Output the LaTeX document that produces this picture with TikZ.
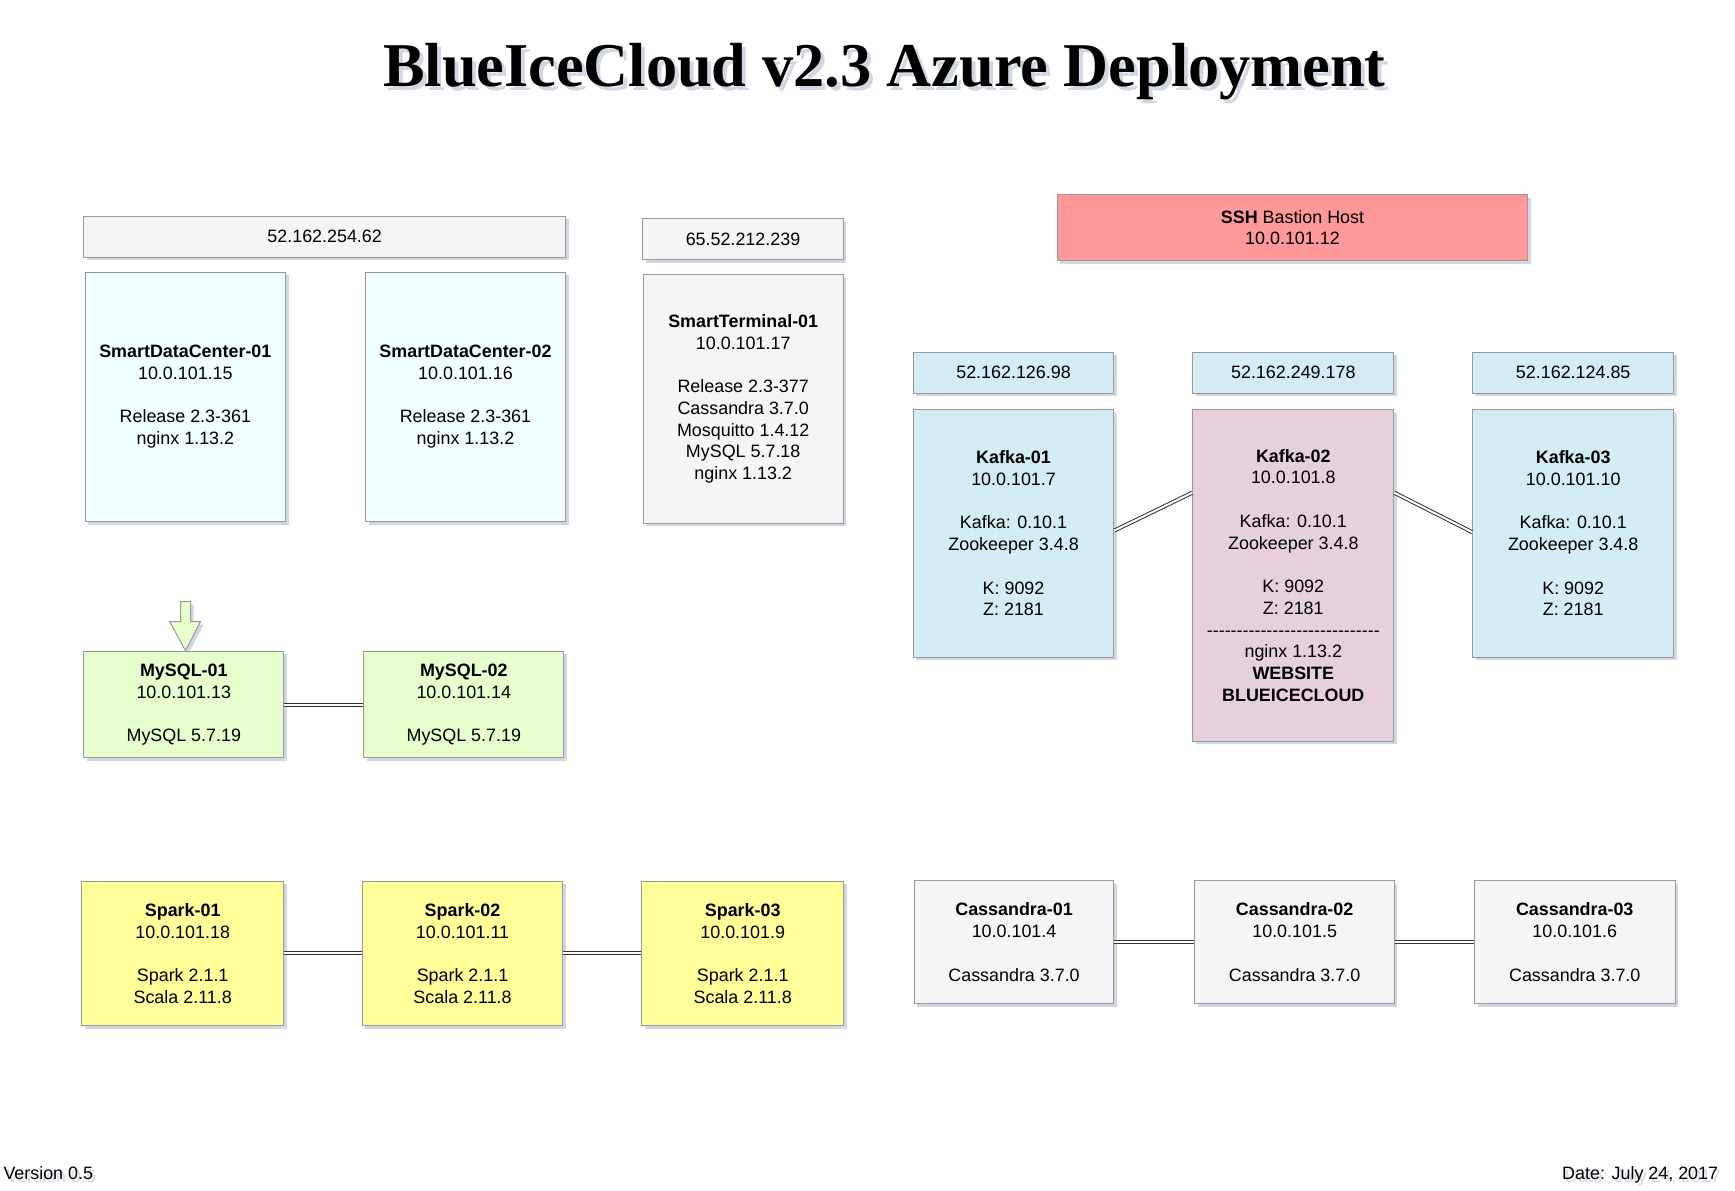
\documentclass[tikz,border=0pt]{standalone}
\usepackage{fontspec}
\setmainfont{Liberation Sans}
\newfontfamily\titlefont{Liberation Serif}
\newfontfamily\dashfont{Liberation Sans}[Ligatures=TeXOff]
\usetikzlibrary{shadows}
\definecolor{bordergray}{HTML}{999999}
\definecolor{ipgray}{HTML}{F5F5F5}
\definecolor{azurefill}{HTML}{F0FFFF}
\definecolor{sshred}{HTML}{FF9999}
\definecolor{kafkablue}{HTML}{D4EDF4}
\definecolor{kafkapink}{HTML}{E6D0DE}
\definecolor{mysqlgreen}{HTML}{E6FFCC}
\definecolor{sparkyellow}{HTML}{FFFF99}
\definecolor{shadowblue}{HTML}{8090B0}
\definecolor{linegray}{HTML}{333333}
\tikzset{
  box/.style={draw=bordergray, line width=1pt, align=center, inner sep=0pt,
    anchor=north west, font=\fontsize{17.9}{21.75}\selectfont,
    drop shadow={shadow xshift=3pt, shadow yshift=-3pt, opacity=0.35, fill=shadowblue}},
  conn/.style={draw=linegray, double=white, double distance=2pt, line width=1pt},
  arrowshape/.style={draw=bordergray, fill=mysqlgreen, line width=1pt, line join=miter,
    drop shadow={shadow xshift=3pt, shadow yshift=-3pt, opacity=0.35, fill=shadowblue}},
  bigtitle/.style={font=\titlefont\bfseries\fontsize{62.3}{70}\selectfont, anchor=base, inner sep=0pt},
  footer/.style={font=\fontsize{17.9}{21.75}\selectfont, inner sep=0pt},
  softshadow/.style={text=shadowblue, opacity=0.35},
}
\begin{document}
\begin{tikzpicture}[x=1pt,y=-1pt]
\useasboundingbox[fill=white] (0,0) rectangle (1735,1191);

% title
\node[bigtitle, softshadow] (titleshadow) at (888.4,90.7) {BlueIceCloud v2.3 Azure Deployment};
\node[bigtitle] (title) at (884.4,86.7) {BlueIceCloud v2.3 Azure Deployment};

% left top group
\node[box, fill=ipgray, minimum width=481.7pt, minimum height=41pt] (ip1) at (83.3,215.7) {52.162.254.62};
\node[box, fill=azurefill, minimum width=200.3pt, minimum height=249.3pt] (sdc1) at (84.7,271.7)
  {\textbf{SmartDataCenter-01}\\10.0.101.15\\[21.75pt]Release 2.3-361\\nginx 1.13.2};
\node[box, fill=azurefill, minimum width=200pt, minimum height=249.3pt] (sdc2) at (365,271.7)
  {\textbf{SmartDataCenter-02}\\10.0.101.16\\[21.75pt]Release 2.3-361\\nginx 1.13.2};

\node[box, fill=ipgray, minimum width=200.4pt, minimum height=41pt] (ip2) at (642.3,218.3) {65.52.212.239};
\node[box, fill=ipgray, minimum width=200pt, minimum height=248.7pt] (st) at (642.7,274)
  {\textbf{SmartTerminal-01}\\10.0.101.17\\[21.75pt]Release 2.3-377\\Cassandra 3.7.0\\Mosquitto 1.4.12\\MySQL 5.7.18\\nginx 1.13.2};

% SSH
\node[box, fill=sshred, minimum width=470.6pt, minimum height=65.7pt] (ssh) at (1056.7,194.3)
  {\textbf{SSH} Bastion Host\\10.0.101.12};

% Kafka
\node[box, fill=kafkablue, minimum width=200.5pt, minimum height=41pt] (ipk1) at (912.8,351.7) {52.162.126.98};
\node[box, fill=kafkablue, minimum width=201pt, minimum height=41pt] (ipk2) at (1192.3,351.7) {52.162.249.178};
\node[box, fill=kafkablue, minimum width=200.6pt, minimum height=41pt] (ipk3) at (1472.4,351.7) {52.162.124.85};

\node[box, fill=kafkablue, minimum width=200.5pt, minimum height=247.7pt] (k1) at (912.8,409)
  {\textbf{Kafka-01}\\10.0.101.7\\[21.75pt]Kafka: 0.10.1\\Zookeeper 3.4.8\\[21.75pt]K: 9092\\Z: 2181};
\node[box, fill=kafkapink, minimum width=201pt, minimum height=331.7pt] (k2) at (1192.3,409)
  {\textbf{Kafka-02}\\10.0.101.8\\[21.75pt]Kafka: 0.10.1\\Zookeeper 3.4.8\\[21.75pt]K: 9092\\Z: 2181\\{\dashfont -----------------------------}\\nginx 1.13.2\\\textbf{WEBSITE}\\\textbf{BLUEICECLOUD}};
\node[box, fill=kafkablue, minimum width=200.6pt, minimum height=247.7pt] (k3) at (1472.4,409)
  {\textbf{Kafka-03}\\10.0.101.10\\[21.75pt]Kafka: 0.10.1\\Zookeeper 3.4.8\\[21.75pt]K: 9092\\Z: 2181};

\draw[conn] ([yshift=2.8pt]k1.east) -- ([yshift=-83.7pt]k2.north east -| k2.west);
\draw[conn] ([yshift=-83.7pt]k2.north east) -- ([yshift=1.1pt]k3.west);

% MySQL
\node[box, fill=mysqlgreen, minimum width=200pt, minimum height=106.6pt] (m1) at (83.3,650.7)
  {\textbf{MySQL-01}\\10.0.101.13\\[21.75pt]MySQL 5.7.19};
\node[box, fill=mysqlgreen, minimum width=200pt, minimum height=106.6pt] (m2) at (363.3,650.7)
  {\textbf{MySQL-02}\\10.0.101.14\\[21.75pt]MySQL 5.7.19};
\draw[conn] (m1) -- (m2);
\draw[arrowshape] ([xshift=1.7pt]m1.north) -- ++(-15.7,-29) -- ++(10.7,0) -- ++(0,-20)
  -- ++(10,0) -- ++(0,20) -- ++(10,0) -- cycle;

% Spark
\node[box, fill=sparkyellow, minimum width=202pt, minimum height=144.3pt] (s1) at (81.2,880.7)
  {\textbf{Spark-01}\\10.0.101.18\\[21.75pt]Spark 2.1.1\\Scala 2.11.8};
\node[box, fill=sparkyellow, minimum width=200.5pt, minimum height=144.3pt] (s2) at (361.8,880.7)
  {\textbf{Spark-02}\\10.0.101.11\\[21.75pt]Spark 2.1.1\\Scala 2.11.8};
\node[box, fill=sparkyellow, minimum width=201.6pt, minimum height=144.3pt] (s3) at (641.4,880.7)
  {\textbf{Spark-03}\\10.0.101.9\\[21.75pt]Spark 2.1.1\\Scala 2.11.8};
\draw[conn] (s1) -- (s2);
\draw[conn] (s2) -- (s3);

% Cassandra
\node[box, fill=ipgray, minimum width=199.5pt, minimum height=123.3pt] (c1) at (913.8,880)
  {\textbf{Cassandra-01}\\10.0.101.4\\[21.75pt]Cassandra 3.7.0};
\node[box, fill=ipgray, minimum width=199.5pt, minimum height=123.3pt] (c2) at (1194.4,880)
  {\textbf{Cassandra-02}\\10.0.101.5\\[21.75pt]Cassandra 3.7.0};
\node[box, fill=ipgray, minimum width=200.5pt, minimum height=123.3pt] (c3) at (1474,880)
  {\textbf{Cassandra-03}\\10.0.101.6\\[21.75pt]Cassandra 3.7.0};
\draw[conn] (c1) -- (c2);
\draw[conn] (c2) -- (c3);

% footer
\node[footer, softshadow, anchor=base west] (vershadow) at (6.3,1182) {Version 0.5};
\node[footer, anchor=base west] (ver) at (3.3,1179) {Version 0.5};
\node[footer, softshadow, anchor=base east] (dateshadow) at (1721.3,1182) {Date: July 24, 2017};
\node[footer, anchor=base east] (date) at (1718.3,1179) {Date: July 24, 2017};
\end{tikzpicture}
\end{document}
